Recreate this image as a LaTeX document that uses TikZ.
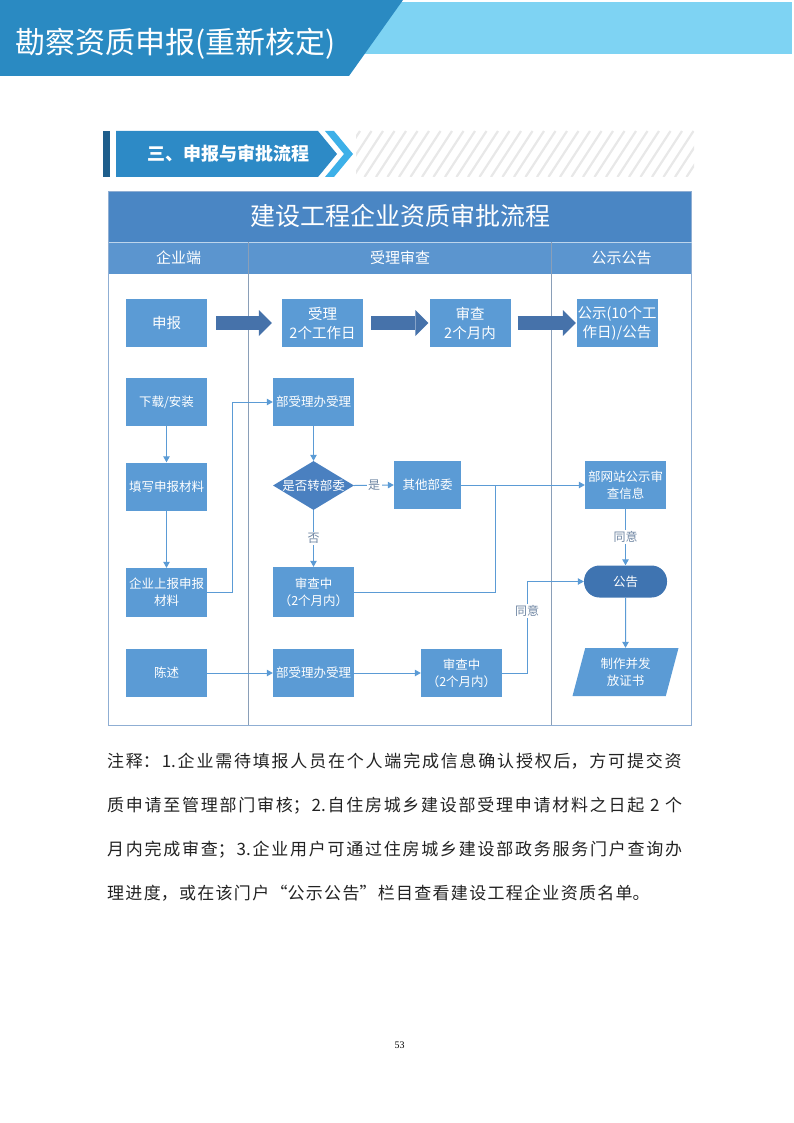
\documentclass[tikz,border=0pt]{standalone}
\usepackage{fontspec}
\setmainfont{Noto Sans CJK SC}
\newfontfamily\numfont{Liberation Serif}
\usepackage{tikz}
\usetikzlibrary{positioning}
\usetikzlibrary{shapes.geometric}
\usetikzlibrary{arrows.meta}

\definecolor{hdrdark}{HTML}{2A8AC2}
\definecolor{hdrlight}{HTML}{7ED3F3}
\definecolor{secbar}{HTML}{1E5E8C}
\definecolor{secbox}{HTML}{2D8AC6}
\definecolor{secchev}{HTML}{3DB0E8}
\definecolor{hatchgray}{HTML}{E8E8E8}
\definecolor{titleband}{HTML}{4A86C4}
\definecolor{laneband}{HTML}{5B95CF}
\definecolor{framec}{HTML}{8FAED3}
\definecolor{lanec}{HTML}{8A9FB8}
\definecolor{boxblue}{HTML}{5B9BD5}
\definecolor{diamondblue}{HTML}{4A80C0}
\definecolor{pillblue}{HTML}{3F74B1}
\definecolor{arrowblue}{HTML}{4672AA}
\definecolor{linkblue}{HTML}{5B9BD5}
\definecolor{lblgray}{HTML}{6F86A3}
\definecolor{notetext}{HTML}{222222}

\XeTeXlinebreaklocale "zh"
\XeTeXlinebreakskip=1.3pt plus 3pt

\begin{document}
\begin{tikzpicture}[x=1pt, y=-1pt,
    box/.style={fill=boxblue, text=white, minimum width=81pt, minimum height=48pt,
        inner sep=1pt, align=center, font=\fontsize{12.5}{17}\selectfont},
    bigbox/.style={box, font=\fontsize{14.5}{19}\selectfont},
    decision/.style={diamond, fill=diamondblue, minimum width=81pt, minimum height=49pt, inner sep=0pt},
    pill/.style={fill=pillblue, text=white, rounded corners=15.5pt, minimum width=83pt,
        minimum height=32pt, font=\fontsize{12.5}{17}\selectfont},
    slanted/.style={trapezium, trapezium left angle=66, trapezium right angle=114,
        trapezium stretches body, fill=boxblue, text=white, minimum width=106pt,
        minimum height=48pt, inner sep=0pt, align=center, font=\fontsize{12.5}{17}\selectfont},
    bigarrow/.style={draw=arrowblue, line width=14pt,
        -{Triangle[width=26pt, length=13pt, line width=0pt]}},
    link/.style={draw=linkblue, line width=1pt, -{Triangle[width=6.5pt, length=6pt]}},
    wire/.style={draw=linkblue, line width=1pt},
    lbl/.style={fill=white, text=lblgray, inner sep=1.5pt, font=\fontsize{12}{14}\selectfont},
    lane/.style={text=white, font=\fontsize{15}{18}\selectfont}
  ]
  \useasboundingbox (0,0) rectangle (794,1123);

  % page header
  \fill[hdrlight] (360,2) rectangle (792,54);
  \fill[hdrdark] (0,0) -- (403,0) -- (349,76) -- (0,76) -- cycle;
  \node[text=white, anchor=west, font=\fontsize{30}{34}\selectfont] (pagetitle) at (12,44) {勘察资质申报(重新核定)};

  % section title
  \fill[secbar] (103,131) rectangle (110,177);
  \fill[secbox] (116,131) -- (318,131) -- (337,154) -- (318,177) -- (116,177) -- cycle;
  \fill[secchev] (325,131) -- (334,131) -- (353,154) -- (334,177) -- (325,177) -- (344,154) -- cycle;
  \begin{scope}
    \clip (356,131) rectangle (694,177);
    \foreach \i in {0,...,32}
      \draw[hatchgray, line width=2.2pt] (330+11.5*\i,177) -- ++(30,-46);
  \end{scope}
  \node[text=white, font=\fontsize{18}{20}\selectfont\bfseries] (sectitle) at (228,154) {三、申报与审批流程};

  % frame and lanes
  \fill[titleband] (108.5,192) rectangle (691.5,242);
  \fill[laneband] (108.5,242) rectangle (691.5,274);
  \draw[framec, line width=1pt] (108.5,192) rectangle (691.5,725);
  \draw[white!60!laneband, line width=0.8pt] (108.5,242) -- (691.5,242);
  \draw[lanec, line width=0.8pt] (248.8,242) -- (248.8,725);
  \draw[lanec, line width=0.8pt] (551.7,242) -- (551.7,725);
  \node[text=white, font=\fontsize{25}{28}\selectfont] (charttitle) at (400,216) {建设工程企业资质审批流程};
  \node[lane] (lanea) at (178.6,258) {企业端};
  \node[lane] (laneb) at (400.2,258) {受理审查};
  \node[lane] (lanec) at (621.6,258) {公示公告};

  % boxes
  \node[bigbox] (shenbao) at (166.5,323) {申报};
  \node[bigbox] (shouli) at (322.5,323) {受理\\2个工作日};
  \node[bigbox] (shencha) at (470,323) {审查\\2个月内};
  \node[bigbox] (gongshi) at (617,323) {公示(10个工\\作日)/公告};

  \node[box] (xiazai) at (166.5,402) {下载/安装};
  \node[box] (bushoulia) at (313.5,402) {部受理办受理};

  \node[box] (tianxie) at (166.5,486.5) {填写申报材料};
  \node[decision, label={[text=white, font=\fontsize{12.5}{17}\selectfont]center:是否转部委}] (zhuan) at (313.5,485.5) {};
  \node[box, minimum width=67pt] (qita) at (427.5,485) {其他部委};
  \node[box] (wangzhan) at (625.5,485) {部网站公示审\\查信息};

  \node[box, minimum height=49pt] (shangbao) at (166.5,592.5) {企业上报申报\\材料};
  \node[box, minimum height=50pt] (shenzhonga) at (313.5,592) {审查中\\（2个月内）};
  \node[pill] (gonggao) at (625.5,581.5) {公告};

  \node[box] (chenshu) at (166.5,673) {陈述};
  \node[box] (bushoulib) at (313.5,673) {部受理办受理};
  \node[box] (shenzhongb) at (461.5,673) {审查中\\（2个月内）};
  \node[slanted] (zhizuo) at (625.5,672) {制作并发\\放证书};

  \coordinate (hui) at (495,485);

  % thick arrows
  \draw[bigarrow, shorten <=9pt, shorten >=10pt] (shenbao.east) -- (shouli.west);
  \draw[bigarrow, shorten <=8pt, shorten >=1pt] (shouli.east) -- (shencha.west);
  \draw[bigarrow, shorten <=7pt, shorten >=0.5pt] (shencha.east) -- (gongshi.west);

  % thin connectors
  \draw[link] (xiazai) -- (tianxie);
  \draw[link] (tianxie) -- (shangbao);
  \draw[link] (shangbao.east) -- ++(25,0) |- (bushoulia.west);
  \draw[link] (bushoulia) -- (zhuan);
  \draw[link] (zhuan.east) -- node[lbl] {是} (qita.west);
  \draw[link] (zhuan.south) -- node[lbl] {否} (shenzhonga.north);
  \draw[link] (qita.east) -- (wangzhan.west);
  \draw[wire] (shenzhonga.east) -| (hui);
  \draw[link] (wangzhan.south) -- node[lbl] {同意} (gonggao.north);
  \draw[link] (gonggao.south) -- (zhizuo.north);
  \draw[link] (chenshu) -- (bushoulib);
  \draw[link] (bushoulib) -- (shenzhongb);
  \draw[link] (shenzhongb.east) -- ++(25,0) |- node[lbl, pos=0.34] {同意} (gonggao.west);

  % notes
  \node[anchor=north west, inner sep=0pt, text width=580pt, text=notetext,
        font=\fontsize{17}{44}\selectfont] (notes) at (107,753)
    {\noindent 注释：1.企业需待填报人员在个人端完成信息确认授权后，方可提交资\linebreak
     质申请至管理部门审核；2.自住房城乡建设部受理申请材料之日起 2 个\linebreak
     月内完成审查；3.企业用户可通过住房城乡建设部政务服务门户查询办\linebreak
     理进度，或在该门户“公示公告”栏目查看建设工程企业资质名单。};

  \node[font=\numfont\fontsize{10}{12}\selectfont] (pagenum) at (399.5,1045) {53};
\end{tikzpicture}
\end{document}
